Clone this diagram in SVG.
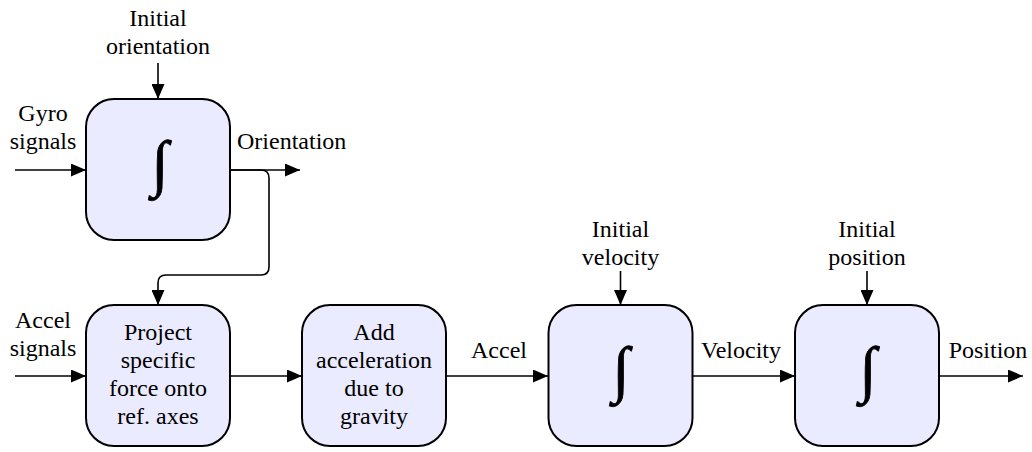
<svg xmlns="http://www.w3.org/2000/svg" width="1032" height="452" viewBox="0 0 1032 452">
<defs>
<marker id="ah" viewBox="0 0 15 13" markerWidth="15" markerHeight="13" refX="15" refY="6.5" orient="auto" markerUnits="userSpaceOnUse">
<path d="M0,0 L15,6.5 L0,13 z" fill="#000"/>
</marker>
<style>
text{font-family:"Liberation Serif","Times New Roman",serif}
.box{fill:#EBEBFF;stroke:#000;stroke-width:2}
.t{font-size:24px;fill:#000}
.c{text-anchor:middle}
.int{font-size:62px;font-style:italic;text-anchor:middle;fill:#000;stroke:#000;stroke-width:0.8}
.ln{fill:none;stroke:#000;stroke-width:1.6;marker-end:url(#ah)}
</style>
</defs>
<rect width="1032" height="452" fill="#fff"/>
<g id="connectors">
<path class="ln" d="M158,63 V99"/>
<path class="ln" d="M15,170 H86"/>
<path class="ln" d="M230,170 H300"/>
<path class="ln" d="M230,170 H261 Q269,170 269,178 V267 Q269,275 261,275 H166 Q158,275 158,283 V305"/>
<path class="ln" d="M15,376 H86"/>
<path class="ln" d="M230,376 H302"/>
<path class="ln" d="M446,376 H548"/>
<path class="ln" d="M692,376 H795"/>
<path class="ln" d="M939,376 H1023"/>
<path class="ln" d="M620.5,271 V305"/>
<path class="ln" d="M867,271 V305"/>
</g>
<g id="labels">
<text class="t c" x="158" y="25.5">Initial</text>
<text class="t c" x="158" y="53.5">orientation</text>
<text class="t c" x="43" y="121">Gyro</text>
<text class="t c" x="43" y="149">signals</text>
<text class="t" x="237" y="149">Orientation</text>
<text class="t c" x="43" y="328">Accel</text>
<text class="t c" x="43" y="356">signals</text>
<text class="t c" x="499" y="358">Accel</text>
<text class="t c" x="741" y="358">Velocity</text>
<text class="t c" x="988" y="358">Position</text>
<text class="t c" x="620.5" y="237">Initial</text>
<text class="t c" x="620.5" y="265">velocity</text>
<text class="t c" x="867" y="237">Initial</text>
<text class="t c" x="867" y="265">position</text>
</g>
<g id="int-orientation">
<rect class="box" x="86" y="99" width="144" height="141" rx="28"/>
<text class="int" x="160" y="184">∫</text>
</g>
<g id="project">
<rect class="box" x="86" y="305" width="144" height="141" rx="28"/>
<text class="t c" x="158" y="340">Project</text>
<text class="t c" x="158" y="368">specific</text>
<text class="t c" x="158" y="396">force onto</text>
<text class="t c" x="158" y="424">ref. axes</text>
</g>
<g id="gravity">
<rect class="box" x="302" y="305" width="144" height="141" rx="28"/>
<text class="t c" x="374" y="340">Add</text>
<text class="t c" x="374" y="368">acceleration</text>
<text class="t c" x="374" y="396">due to</text>
<text class="t c" x="374" y="424">gravity</text>
</g>
<g id="int-velocity">
<rect class="box" x="548.5" y="305" width="144" height="141" rx="28"/>
<text class="int" x="621" y="390">∫</text>
</g>
<g id="int-position">
<rect class="box" x="795" y="305" width="144" height="141" rx="28"/>
<text class="int" x="868" y="390">∫</text>
</g>
</svg>
